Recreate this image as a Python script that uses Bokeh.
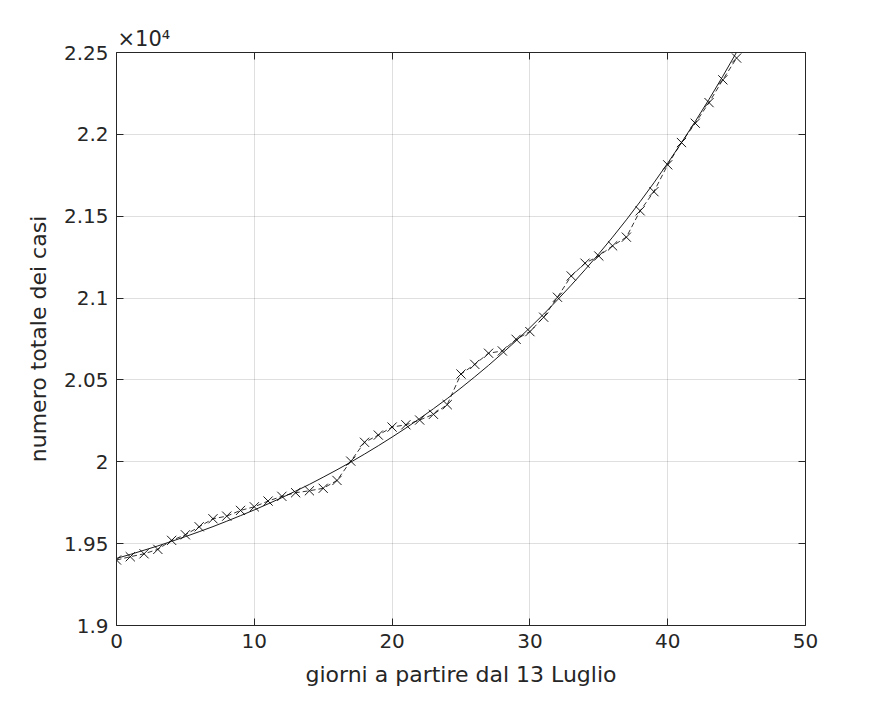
from bokeh.plotting import figure
from bokeh.models import LinearAxis, FixedTicker, ColumnDataSource, Title
from bokeh.embed import file_html
from bokeh.resources import INLINE

# ---- data ----
days = list(range(46))
cases = [19400, 19420, 19438, 19465, 19520, 19554, 19603, 19652, 19668, 19703,
         19725, 19760, 19789, 19811, 19823, 19838, 19886, 20004, 20119, 20163,
         20212, 20226, 20255, 20290, 20349, 20536, 20595, 20663, 20677, 20748,
         20795, 20883, 21005, 21135, 21213, 21257, 21319, 21372, 21533, 21650,
         21814, 21950, 22068, 22194, 22333, 22466]
fit_values = [19410, 19434, 19460, 19486, 19514, 19543, 19573, 19604, 19637, 19671,
              19706, 19743, 19781, 19821, 19862, 19906, 19951, 19998, 20047, 20098,
              20151, 20206, 20264, 20324, 20386, 20451, 20519, 20589, 20663, 20739,
              20819, 20902, 20989, 21079, 21173, 21270, 21372, 21478, 21589, 21704,
              21824, 21949, 22079, 22214, 22355, 22502]
x_ticks = [0, 10, 20, 30, 40, 50]
y_ticks = [19000, 19500, 20000, 20500, 21000, 21500, 22000, 22500]
y_tick_labels = ["1.9", "1.95", "2", "2.05", "2.1", "2.15", "2.2", "2.25"]
x_label = "giorni a partire dal 13 Luglio"
y_label = "numero totale dei casi"
exponent_text = "\u00d710\u2074"

AX = "#262626"
FONT = "DejaVu Sans"

p = figure(width=883, height=695, x_range=(0, 50), y_range=(19000, 22500),
           output_backend="svg", toolbar_location=None,
           min_border_left=116, min_border_right=78,
           min_border_top=52, min_border_bottom=70)
p.outline_line_color = None

src = ColumnDataSource(dict(x=days, y=cases))
fsrc = ColumnDataSource(dict(x=days, y=fit_values))

p.line("x", "y", source=src, line_color="black", line_width=0.8, line_dash="5 3")
p.scatter("x", "y", source=src, marker="x", size=13, line_color="black", line_width=0.9)
p.line("x", "y", source=fsrc, line_color="black", line_width=0.9)

ylab = {t: l for t, l in zip(y_ticks, y_tick_labels)}

def style(ax, ticks):
    ax.ticker = FixedTicker(ticks=ticks)
    ax.axis_line_color = AX
    ax.axis_line_width = 1
    ax.major_tick_line_color = AX
    ax.major_tick_in = 7
    ax.major_tick_out = 0
    ax.minor_tick_line_color = None
    ax.major_label_text_font = FONT
    ax.major_label_text_color = AX
    ax.major_label_text_font_size = "20px"
    ax.major_label_standoff = 8
    ax.axis_label_text_font = FONT
    ax.axis_label_text_font_size = "22px"
    ax.axis_label_text_font_style = "normal"
    ax.axis_label_text_color = AX

xa = p.xaxis[0]
style(xa, x_ticks)
xa.axis_label = x_label
xa.axis_label_standoff = 11
ya = p.yaxis[0]
style(ya, y_ticks)
ya.major_label_overrides = ylab
ya.axis_label = y_label
ya.axis_label_standoff = 10

top = LinearAxis()
style(top, x_ticks)
top.major_label_overrides = {t: "" for t in x_ticks}
p.add_layout(top, "above")
right = LinearAxis()
style(right, y_ticks)
right.major_label_overrides = {t: "" for t in y_ticks}
p.add_layout(right, "right")

for g, t in ((p.xgrid[0], x_ticks), (p.ygrid[0], y_ticks)):
    g.ticker = FixedTicker(ticks=t)
    g.grid_line_color = AX
    g.grid_line_alpha = 0.15
    g.grid_line_width = 1

t = Title(text=exponent_text, align="left", offset=1, standoff=3,
          text_font=FONT, text_font_size="21px", text_color=AX,
          text_font_style="normal")
p.add_layout(t, "above")

open("out.html", "w").write(file_html(p, INLINE))
